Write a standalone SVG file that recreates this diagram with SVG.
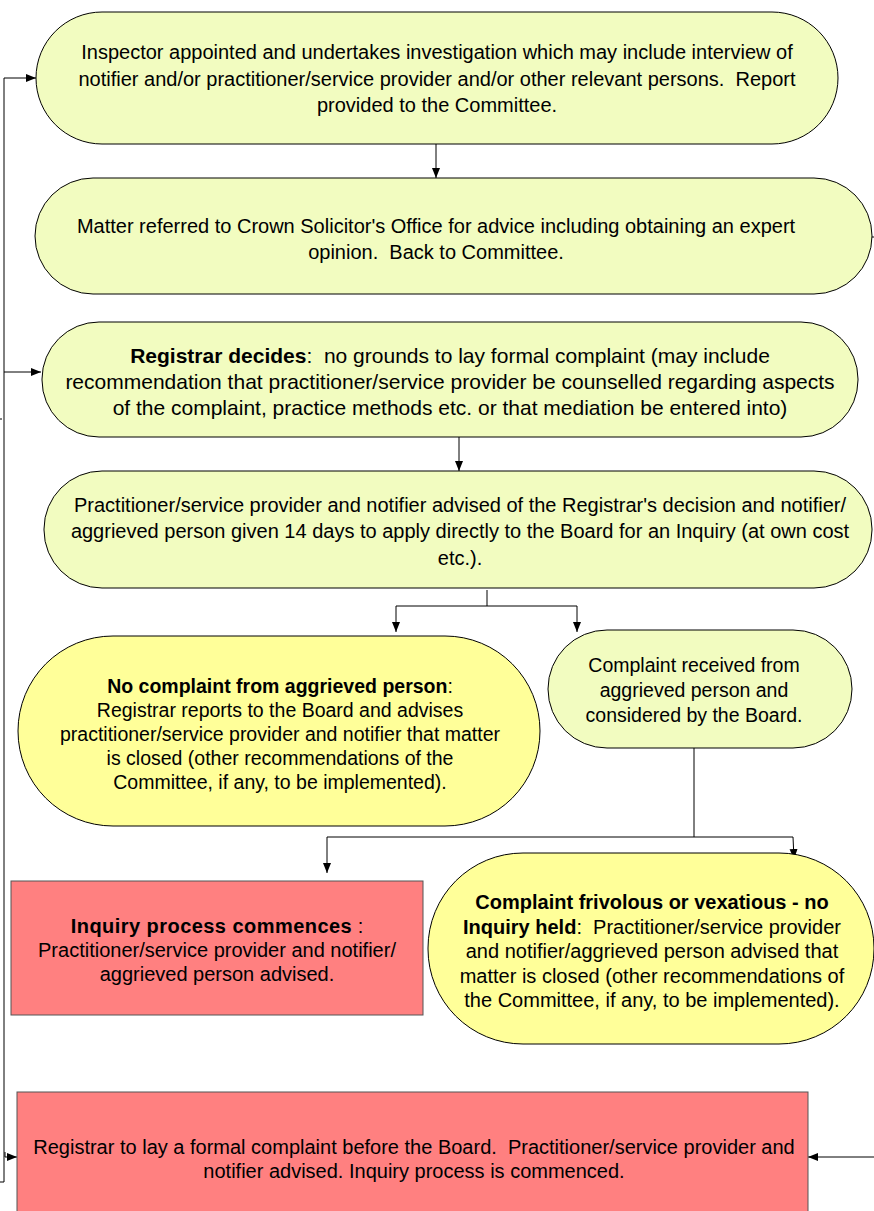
<svg xmlns="http://www.w3.org/2000/svg" width="874" height="1211" viewBox="0 0 874 1211">
<defs>
<marker id="ah" viewBox="0 0 10 10" refX="10" refY="5" markerWidth="10" markerHeight="10" markerUnits="userSpaceOnUse" orient="auto">
<path d="M0,1 L10,5 L0,9 Z" fill="#000"/>
</marker>
<style>
.g{fill:#F2FCC0;stroke:#000;stroke-width:1}
.y{fill:#FFFF99;stroke:#000;stroke-width:1}
.r{fill:#FF8080;stroke:#555;stroke-width:1}
text{font-family:"Liberation Sans",Arial,sans-serif;font-size:20px;fill:#000;text-anchor:middle}
.b{font-weight:bold}
.s5{font-size:19.5px}
.s3{font-size:21px}
.c{fill:none;stroke:#000;stroke-width:1}
.ca{fill:none;stroke:#000;stroke-width:1;marker-end:url(#ah)}
</style>
</defs>
<rect width="874" height="1211" fill="#fff"/>
<g id="connectors">
<path class="c" d="M0,1182 H4 V78"/>
<path class="ca" d="M4,78 H36"/>
<path class="ca" d="M4,372 H41"/>
<path class="ca" d="M5,1152 V1157 H17"/>
<path class="c" d="M0,419 H2"/>
<path class="ca" d="M436,144 V178"/>
<path class="c" d="M872,237 H874"/>
<path class="ca" d="M459,437 V471"/>
<path class="c" d="M487,590 V606 M396,606 H577"/>
<path class="ca" d="M396,606 V632"/>
<path class="ca" d="M577,606 V632"/>
<path class="c" d="M694,748 V837 M327,837 H793"/>
<path class="ca" d="M327,837 V873"/>
<path class="ca" d="M793,837 L794,859"/>
<path class="ca" d="M874,1157 H808"/>
</g>
<g id="n1">
<rect class="g" x="36" y="12" width="802" height="132" rx="66" ry="66"/>
<text x="437" y="59">Inspector appointed and undertakes investigation which may include interview of</text>
<text x="437" y="86">notifier and/or practitioner/service provider and/or other relevant persons.&#160; Report</text>
<text x="437" y="112">provided to the Committee.</text>
</g>
<g id="n2">
<rect class="g" x="35" y="178" width="837" height="116" rx="58" ry="58"/>
<text x="436" y="233">Matter referred to Crown Solicitor's Office for advice including obtaining an expert</text>
<text x="436" y="259">opinion.&#160; Back to Committee.</text>
</g>
<g id="n3" class="s3">
<rect class="g" x="42" y="322" width="816" height="115" rx="57" ry="57"/>
<text class="s3" x="450" y="363"><tspan class="b">Registrar decides</tspan>:&#160; no grounds to lay formal complaint (may include</text>
<text class="s3" x="450" y="389">recommendation that practitioner/service provider be counselled regarding aspects</text>
<text class="s3" x="450" y="415">of the complaint, practice methods etc. or that mediation be entered into)</text>
</g>
<g id="n4">
<rect class="g" x="44" y="471" width="828" height="117" rx="58" ry="58"/>
<text x="460" y="512">Practitioner/service provider and notifier advised of the Registrar's decision and notifier/</text>
<text x="460" y="538">aggrieved person given 14 days to apply directly to the Board for an Inquiry (at own cost</text>
<text x="460" y="565">etc.).</text>
</g>
<g id="n5">
<rect class="y" x="18" y="636" width="522" height="190" rx="95" ry="95"/>
<text class="s5" x="280" y="693"><tspan class="b">No complaint from aggrieved person</tspan>:</text>
<text class="s5" x="280" y="717">Registrar reports to the Board and advises</text>
<text class="s5" x="280" y="741">practitioner/service provider and notifier that matter</text>
<text class="s5" x="280" y="765">is closed (other recommendations of the</text>
<text class="s5" x="280" y="789">Committee, if any, to be implemented).</text>
</g>
<g id="n6">
<rect class="g" x="548" y="630" width="304" height="118" rx="59" ry="59"/>
<text class="s5" x="694" y="672">Complaint received from</text>
<text class="s5" x="694" y="697">aggrieved person and</text>
<text class="s5" x="694" y="722">considered by the Board.</text>
</g>
<g id="n7">
<rect class="y" x="428" y="853" width="446" height="191" rx="95" ry="95"/>
<text x="652" y="909" class="b">Complaint frivolous or vexatious - no</text>
<text x="652" y="934"><tspan class="b">Inquiry held</tspan>:&#160; Practitioner/service provider</text>
<text x="652" y="958">and notifier/aggrieved person advised that</text>
<text x="652" y="983">matter is closed (other recommendations of</text>
<text x="652" y="1007">the Committee, if any, to be implemented).</text>
</g>
<g id="n8">
<rect class="r" x="11" y="881" width="412" height="134"/>
<text x="217" y="933"><tspan class="b" letter-spacing="0.45">Inquiry process commences</tspan> :</text>
<text x="217" y="957">Practitioner/service provider and notifier/</text>
<text x="217" y="981">aggrieved person advised.</text>
</g>
<g id="n9">
<rect class="r" x="17" y="1092" width="791" height="125"/>
<text x="414" y="1154">Registrar to lay a formal complaint before the Board.&#160; Practitioner/service provider and</text>
<text x="414" y="1178">notifier advised. Inquiry process is commenced.</text>
</g>
</svg>
